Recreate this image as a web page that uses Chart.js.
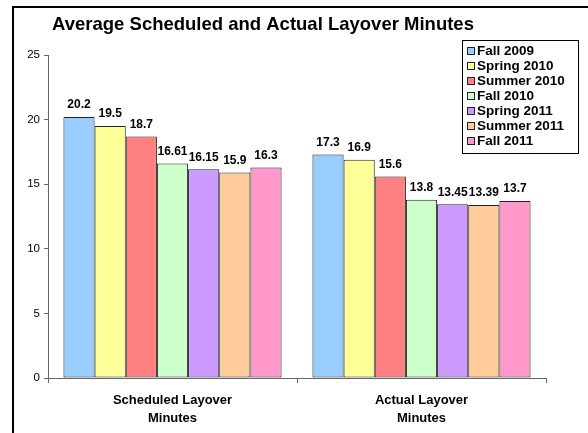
<!DOCTYPE html>
<html>
<head>
<meta charset="utf-8">
<script src="https://cdn.jsdelivr.net/npm/chart.js@4.4.1/dist/chart.umd.min.js"></script>
<style>
  html, body { margin: 0; padding: 0; background: #fff; }
  #wrap { width: 588px; height: 433px; position: relative; }
</style>
</head>
<body>
<div id="wrap"><canvas id="chart" width="588" height="433"></canvas></div>
<script>
// Data
const categories = [['Scheduled Layover', 'Minutes'], ['Actual Layover', 'Minutes']];
const seasons = ['Fall 2009', 'Spring 2010', 'Summer 2010', 'Fall 2010', 'Spring 2011', 'Summer 2011', 'Fall 2011'];
const scheduled = [20.2, 19.5, 18.7, 16.61, 16.15, 15.9, 16.3];
const actual = [17.3, 16.9, 15.6, 13.8, 13.45, 13.39, 13.7];
const colors = ['#99CCFF', '#FFFF99', '#FF8080', '#CCFFCC', '#CC99FF', '#FFCC99', '#FF99CC'];
const yTicks = [0, 5, 10, 15, 20, 25];

const FONT = 'Liberation Sans, Arial, sans-serif';

const datasets = seasons.map((s, i) => ({
    label: s,
    data: [scheduled[i], actual[i]],
    backgroundColor: colors[i],
    borderColor: '#222',
    borderWidth: 1,
    borderSkipped: false
}));

// frame + title
const framePlugin = {
    id: 'frame',
    beforeDraw(chart) {
        const ctx = chart.ctx;
        ctx.save();
        ctx.fillStyle = '#fff';
        ctx.fillRect(0, 0, chart.width, chart.height);
        ctx.strokeStyle = '#000';
        ctx.lineWidth = 2;
        ctx.strokeRect(13, 7, 700, 600);
        ctx.fillStyle = '#000';
        ctx.font = 'bold 18.5px ' + FONT;
        ctx.textAlign = 'center';
        ctx.textBaseline = 'middle';
        ctx.fillText('Average Scheduled and Actual Layover Minutes', 263, 25);
        ctx.restore();
    }
};

// value labels above bars
const valueLabels = {
    id: 'valueLabels',
    afterDatasetsDraw(chart) {
        const ctx = chart.ctx;
        ctx.save();
        ctx.fillStyle = '#000';
        ctx.font = 'bold 12px ' + FONT;
        ctx.textAlign = 'center';
        ctx.textBaseline = 'bottom';
        chart.data.datasets.forEach((ds, i) => {
            chart.getDatasetMeta(i).data.forEach((bar, j) => {
                ctx.fillText(String(ds.data[j]), bar.x, bar.y - 6);
            });
        });
        ctx.restore();
    }
};

// legend box at top right
const boxLegend = {
    id: 'boxLegend',
    afterDraw(chart) {
        const ctx = chart.ctx;
        const x0 = 462, y0 = 40, w = 116, rowH = 15;
        const h = rowH * chart.data.datasets.length + 8;
        ctx.save();
        ctx.fillStyle = '#fff';
        ctx.fillRect(x0, y0, w, h);
        ctx.strokeStyle = '#000';
        ctx.lineWidth = 1;
        ctx.strokeRect(x0 + 0.5, y0 + 0.5, w, h);
        ctx.font = 'bold 13.5px ' + FONT;
        ctx.textBaseline = 'middle';
        chart.data.datasets.forEach((ds, i) => {
            const cy = y0 + 11 + i * rowH;
            ctx.fillStyle = ds.backgroundColor;
            ctx.fillRect(467, cy - 4, 8, 8);
            ctx.strokeStyle = '#222';
            ctx.strokeRect(467.5, cy - 3.5, 7, 7);
            ctx.fillStyle = '#000';
            ctx.fillText(ds.label, 477, cy + 0.5);
        });
        ctx.restore();
    }
};

new Chart(document.getElementById('chart').getContext('2d'), {
    type: 'bar',
    data: { labels: categories, datasets: datasets },
    options: {
        responsive: false,
        animation: false,
        devicePixelRatio: 1,
        layout: { padding: { top: 55, right: 42, left: 0, bottom: 0 } },
        categoryPercentage: 0.876,
        barPercentage: 1,
        plugins: {
            legend: { display: false },
            title: { display: false },
            tooltip: { enabled: false }
        },
        scales: {
            x: {
                offset: true,
                grid: { display: true, drawOnChartArea: false, offset: true, tickLength: 5, color: '#666' },
                border: { color: '#666', width: 1 },
                ticks: { color: '#000', font: { family: FONT, size: 13, weight: 'bold', lineHeight: 1.4 }, padding: 8, maxRotation: 0 },
                afterFit(scale) { scale.height = 55; }
            },
            y: {
                min: 0,
                max: 25,
                afterBuildTicks(scale) { scale.ticks = yTicks.map(v => ({ value: v })); },
                grid: { display: true, drawOnChartArea: false, tickLength: 4, color: '#666' },
                border: { color: '#666', width: 1 },
                ticks: { color: '#000', font: { family: FONT, size: 11.5 }, padding: 4 },
                afterFit(scale) { scale.width = 48; }
            }
        }
    },
    plugins: [framePlugin, valueLabels, boxLegend]
});
</script>
</body>
</html>
